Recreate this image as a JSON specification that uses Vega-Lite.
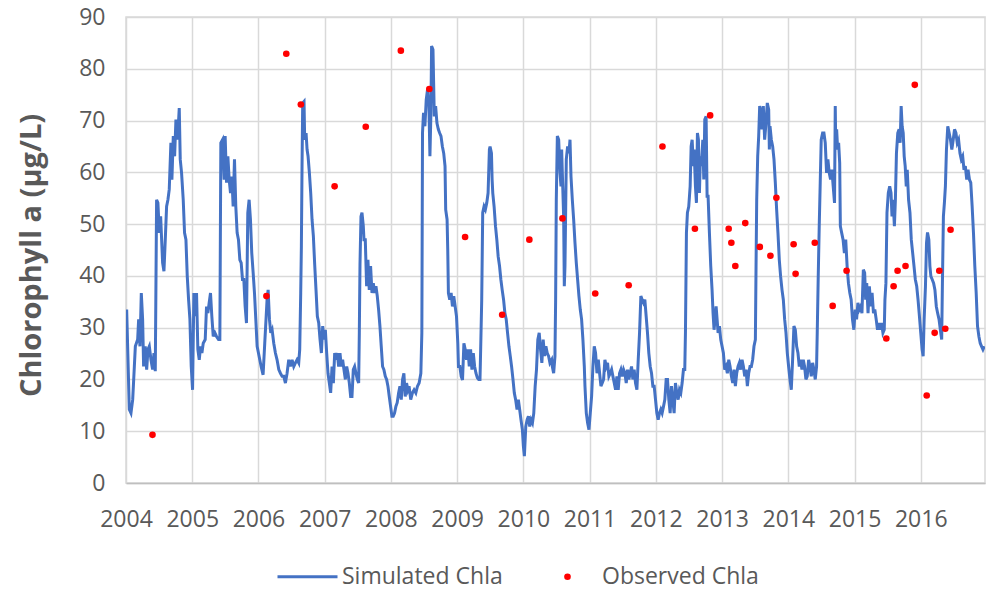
{
  "$schema": "https://vega.github.io/schema/vega-lite/v6.json",
  "width": 859,
  "height": 466,
  "autosize": {"type": "none"},
  "padding": {"left": 126, "top": 17, "right": 3, "bottom": 109},
  "background": "white",
  "config": {
    "font": "Open Sans",
    "view": {"stroke": "#d9d9d9", "strokeWidth": 1.5}
  },
  "datasets": {
    "simulated": [
      {"yr":2004.010,"chl":33.5},{"yr":2004.050,"chl":14.2},{"yr":2004.075,"chl":13.5},{"yr":2004.101,"chl":16.1},{"yr":2004.126,"chl":22.5},{"yr":2004.141,"chl":26.4},{"yr":2004.176,"chl":27.7},{"yr":2004.191,"chl":31.6},{"yr":2004.211,"chl":26.4},{"yr":2004.231,"chl":36.7},{"yr":2004.251,"chl":31.6},{"yr":2004.266,"chl":22.5},{"yr":2004.291,"chl":26.4},{"yr":2004.312,"chl":21.9},{"yr":2004.332,"chl":25.8},{"yr":2004.352,"chl":26.4},{"yr":2004.377,"chl":23.8},{"yr":2004.402,"chl":21.9},{"yr":2004.422,"chl":25.1},{"yr":2004.442,"chl":21.6},
      {"yr":2004.462,"chl":54.7},{"yr":2004.482,"chl":54.1},{"yr":2004.503,"chl":48.3},{"yr":2004.523,"chl":51.5},{"yr":2004.553,"chl":42.5},{"yr":2004.573,"chl":40.9},{"yr":2004.593,"chl":47.0},{"yr":2004.613,"chl":53.4},{"yr":2004.633,"chl":54.7},{"yr":2004.653,"chl":56.7},{"yr":2004.678,"chl":65.7},{"yr":2004.693,"chl":58.6},{"yr":2004.714,"chl":67.0},{"yr":2004.734,"chl":63.1},{"yr":2004.754,"chl":70.2},{"yr":2004.779,"chl":66.3},{"yr":2004.804,"chl":72.4},{"yr":2004.819,"chl":62.5},{"yr":2004.839,"chl":59.9},{"yr":2004.864,"chl":54.7},{"yr":2004.884,"chl":48.3},{"yr":2004.905,"chl":47.0},{"yr":2004.925,"chl":39.9},{"yr":2004.945,"chl":35.4},{"yr":2004.965,"chl":31.6},{"yr":2004.985,"chl":22.5},
      {"yr":2005.005,"chl":18.0},{"yr":2005.025,"chl":36.7},{"yr":2005.045,"chl":32.2},{"yr":2005.065,"chl":36.7},{"yr":2005.085,"chl":25.8},{"yr":2005.106,"chl":23.8},{"yr":2005.126,"chl":26.4},{"yr":2005.146,"chl":25.1},{"yr":2005.166,"chl":27.0},{"yr":2005.196,"chl":27.7},{"yr":2005.216,"chl":34.1},{"yr":2005.236,"chl":32.8},{"yr":2005.256,"chl":34.8},{"yr":2005.276,"chl":36.7},{"yr":2005.296,"chl":32.2},{"yr":2005.317,"chl":28.3},{"yr":2005.342,"chl":29.0},{"yr":2005.367,"chl":28.3},{"yr":2005.397,"chl":27.7},{"yr":2005.417,"chl":27.7},
      {"yr":2005.432,"chl":65.7},{"yr":2005.457,"chl":66.3},{"yr":2005.482,"chl":58.6},{"yr":2005.497,"chl":67.0},{"yr":2005.518,"chl":58.0},{"yr":2005.538,"chl":63.1},{"yr":2005.558,"chl":58.6},{"yr":2005.578,"chl":56.0},{"yr":2005.598,"chl":59.2},{"yr":2005.618,"chl":53.4},{"yr":2005.638,"chl":62.5},{"yr":2005.658,"chl":53.4},{"yr":2005.678,"chl":48.3},{"yr":2005.698,"chl":47.0},{"yr":2005.719,"chl":43.1},{"yr":2005.739,"chl":42.5},{"yr":2005.759,"chl":39.3},{"yr":2005.779,"chl":39.3},{"yr":2005.799,"chl":34.1},{"yr":2005.819,"chl":30.9},{"yr":2005.839,"chl":52.2},{"yr":2005.859,"chl":54.7},{"yr":2005.879,"chl":50.9},{"yr":2005.899,"chl":44.4},{"yr":2005.920,"chl":40.6},{"yr":2005.940,"chl":36.7},{"yr":2005.960,"chl":31.6},{"yr":2005.980,"chl":26.4},{"yr":2006.000,"chl":25.1},{"yr":2006.020,"chl":23.8},{"yr":2006.040,"chl":22.5},{"yr":2006.070,"chl":20.9},
      {"yr":2006.095,"chl":27.0},{"yr":2006.130,"chl":35.4},{"yr":2006.146,"chl":37.3},{"yr":2006.166,"chl":31.6},{"yr":2006.186,"chl":29.0},{"yr":2006.206,"chl":29.6},{"yr":2006.231,"chl":27.0},{"yr":2006.256,"chl":25.1},{"yr":2006.281,"chl":23.8},{"yr":2006.307,"chl":21.9},{"yr":2006.332,"chl":21.2},{"yr":2006.357,"chl":20.6},{"yr":2006.382,"chl":20.6},{"yr":2006.407,"chl":19.3},{"yr":2006.432,"chl":21.2},{"yr":2006.457,"chl":23.8},{"yr":2006.482,"chl":22.5},{"yr":2006.508,"chl":23.8},{"yr":2006.533,"chl":22.5},{"yr":2006.558,"chl":23.2},{"yr":2006.583,"chl":23.8},{"yr":2006.608,"chl":23.2},{"yr":2006.623,"chl":25.8},
      {"yr":2006.638,"chl":36.7},{"yr":2006.648,"chl":45.7},{"yr":2006.658,"chl":61.2},{"yr":2006.668,"chl":73.4},{"yr":2006.688,"chl":73.7},{"yr":2006.698,"chl":66.3},{"yr":2006.719,"chl":67.6},{"yr":2006.734,"chl":64.4},{"yr":2006.749,"chl":63.1},{"yr":2006.769,"chl":59.9},{"yr":2006.789,"chl":56.0},{"yr":2006.809,"chl":50.9},{"yr":2006.829,"chl":47.7},{"yr":2006.849,"chl":42.2},{"yr":2006.869,"chl":37.3},{"yr":2006.889,"chl":32.2},{"yr":2006.910,"chl":30.9},{"yr":2006.930,"chl":27.7},{"yr":2006.950,"chl":25.1},{"yr":2006.970,"chl":30.3},{"yr":2006.990,"chl":27.7},
      {"yr":2007.010,"chl":29.6},{"yr":2007.030,"chl":25.1},{"yr":2007.050,"chl":21.2},{"yr":2007.070,"chl":19.3},{"yr":2007.090,"chl":17.4},{"yr":2007.111,"chl":22.5},{"yr":2007.131,"chl":19.3},{"yr":2007.151,"chl":25.1},{"yr":2007.171,"chl":23.8},{"yr":2007.191,"chl":25.1},{"yr":2007.211,"chl":22.5},{"yr":2007.231,"chl":25.1},{"yr":2007.251,"chl":22.5},{"yr":2007.271,"chl":23.8},{"yr":2007.291,"chl":21.9},{"yr":2007.312,"chl":20.0},{"yr":2007.332,"chl":22.5},{"yr":2007.352,"chl":21.2},{"yr":2007.372,"chl":19.3},{"yr":2007.392,"chl":16.7},{"yr":2007.412,"chl":16.7},{"yr":2007.432,"chl":21.9},{"yr":2007.452,"chl":22.5},{"yr":2007.472,"chl":21.2},{"yr":2007.492,"chl":20.0},{"yr":2007.513,"chl":19.3},
      {"yr":2007.523,"chl":29.0},{"yr":2007.533,"chl":42.2},{"yr":2007.548,"chl":51.5},{"yr":2007.563,"chl":52.2},{"yr":2007.583,"chl":49.6},{"yr":2007.593,"chl":47.0},{"yr":2007.613,"chl":47.0},{"yr":2007.633,"chl":38.0},{"yr":2007.653,"chl":43.1},{"yr":2007.673,"chl":37.3},{"yr":2007.693,"chl":41.9},{"yr":2007.714,"chl":36.7},{"yr":2007.734,"chl":38.6},{"yr":2007.754,"chl":36.7},{"yr":2007.774,"chl":38.0},{"yr":2007.794,"chl":36.1},{"yr":2007.814,"chl":33.5},{"yr":2007.834,"chl":30.3},{"yr":2007.854,"chl":26.4},{"yr":2007.874,"chl":22.5},{"yr":2007.894,"chl":21.9},{"yr":2007.915,"chl":20.6},{"yr":2007.935,"chl":20.0},{"yr":2007.955,"chl":18.7},{"yr":2007.975,"chl":16.7},{"yr":2007.995,"chl":14.8},
      {"yr":2008.015,"chl":12.9},{"yr":2008.035,"chl":12.9},{"yr":2008.055,"chl":13.5},{"yr":2008.075,"chl":14.8},{"yr":2008.095,"chl":15.5},{"yr":2008.116,"chl":17.4},{"yr":2008.136,"chl":18.7},{"yr":2008.156,"chl":16.1},{"yr":2008.176,"chl":20.0},{"yr":2008.196,"chl":21.2},{"yr":2008.216,"chl":16.7},{"yr":2008.236,"chl":19.3},{"yr":2008.256,"chl":18.0},{"yr":2008.274,"chl":18.7},{"yr":2008.299,"chl":16.1},{"yr":2008.325,"chl":17.4},{"yr":2008.350,"chl":18.0},{"yr":2008.376,"chl":17.4},{"yr":2008.401,"chl":18.7},{"yr":2008.426,"chl":19.3},{"yr":2008.452,"chl":21.2},{"yr":2008.467,"chl":29.0},
      {"yr":2008.477,"chl":67.6},{"yr":2008.492,"chl":71.5},{"yr":2008.513,"chl":68.9},{"yr":2008.533,"chl":74.0},{"yr":2008.553,"chl":76.0},{"yr":2008.574,"chl":72.8},{"yr":2008.589,"chl":63.1},{"yr":2008.604,"chl":71.5},{"yr":2008.614,"chl":84.4},{"yr":2008.635,"chl":83.7},{"yr":2008.645,"chl":77.3},{"yr":2008.655,"chl":70.8},{"yr":2008.675,"chl":72.8},{"yr":2008.695,"chl":69.5},{"yr":2008.716,"chl":68.3},{"yr":2008.736,"chl":67.6},{"yr":2008.756,"chl":67.0},{"yr":2008.777,"chl":65.0},{"yr":2008.797,"chl":63.7},{"yr":2008.817,"chl":61.2},{"yr":2008.827,"chl":52.8},{"yr":2008.848,"chl":50.9},{"yr":2008.858,"chl":45.1},{"yr":2008.868,"chl":36.7},{"yr":2008.888,"chl":35.4},{"yr":2008.909,"chl":36.7},{"yr":2008.929,"chl":34.1},{"yr":2008.949,"chl":36.1},{"yr":2008.970,"chl":34.1},{"yr":2008.990,"chl":32.2},
      {"yr":2009.010,"chl":27.0},{"yr":2009.020,"chl":22.5},{"yr":2009.041,"chl":22.5},{"yr":2009.061,"chl":20.6},{"yr":2009.081,"chl":19.9},{"yr":2009.102,"chl":27.0},{"yr":2009.122,"chl":25.8},{"yr":2009.142,"chl":23.8},{"yr":2009.162,"chl":25.8},{"yr":2009.183,"chl":22.5},{"yr":2009.203,"chl":25.8},{"yr":2009.223,"chl":21.9},{"yr":2009.244,"chl":25.1},{"yr":2009.264,"chl":22.5},{"yr":2009.284,"chl":21.2},{"yr":2009.305,"chl":20.3},{"yr":2009.325,"chl":20.0},{"yr":2009.345,"chl":20.0},{"yr":2009.355,"chl":25.8},{"yr":2009.371,"chl":35.4},
      {"yr":2009.386,"chl":52.2},{"yr":2009.406,"chl":53.4},{"yr":2009.426,"chl":52.8},{"yr":2009.447,"chl":54.1},{"yr":2009.467,"chl":56.0},{"yr":2009.487,"chl":64.4},{"yr":2009.497,"chl":65.0},{"yr":2009.518,"chl":63.7},{"yr":2009.528,"chl":58.6},{"yr":2009.538,"chl":56.0},{"yr":2009.558,"chl":53.4},{"yr":2009.579,"chl":49.6},{"yr":2009.599,"chl":47.0},{"yr":2009.619,"chl":43.8},{"yr":2009.640,"chl":41.9},{"yr":2009.660,"chl":39.3},{"yr":2009.680,"chl":37.3},{"yr":2009.701,"chl":35.4},{"yr":2009.721,"chl":32.8},{"yr":2009.741,"chl":31.6},{"yr":2009.761,"chl":29.0},{"yr":2009.782,"chl":26.4},{"yr":2009.802,"chl":24.5},{"yr":2009.822,"chl":22.5},{"yr":2009.843,"chl":20.0},{"yr":2009.863,"chl":17.4},{"yr":2009.883,"chl":16.1},{"yr":2009.904,"chl":14.2},{"yr":2009.924,"chl":16.1},{"yr":2009.944,"chl":14.2},{"yr":2009.964,"chl":12.2},{"yr":2009.985,"chl":10.3},
      {"yr":2010.000,"chl":7.1},{"yr":2010.015,"chl":5.2},{"yr":2010.036,"chl":10.9},{"yr":2010.056,"chl":12.2},{"yr":2010.076,"chl":12.9},{"yr":2010.096,"chl":10.9},{"yr":2010.117,"chl":12.2},{"yr":2010.137,"chl":11.6},{"yr":2010.157,"chl":13.5},{"yr":2010.178,"chl":18.7},{"yr":2010.198,"chl":21.9},{"yr":2010.218,"chl":27.7},{"yr":2010.239,"chl":29.0},{"yr":2010.259,"chl":25.8},{"yr":2010.279,"chl":23.2},{"yr":2010.299,"chl":27.7},{"yr":2010.320,"chl":24.5},{"yr":2010.340,"chl":26.4},{"yr":2010.360,"chl":25.1},{"yr":2010.381,"chl":24.5},{"yr":2010.401,"chl":23.2},{"yr":2010.427,"chl":23.8},{"yr":2010.437,"chl":22.5},{"yr":2010.457,"chl":21.2},{"yr":2010.477,"chl":24.5},{"yr":2010.487,"chl":35.4},
      {"yr":2010.497,"chl":54.7},{"yr":2010.513,"chl":67.0},{"yr":2010.533,"chl":66.3},{"yr":2010.553,"chl":59.9},{"yr":2010.568,"chl":57.3},{"yr":2010.578,"chl":64.4},{"yr":2010.588,"chl":59.9},{"yr":2010.608,"chl":51.5},{"yr":2010.618,"chl":38.0},{"yr":2010.628,"chl":41.9},{"yr":2010.648,"chl":62.5},{"yr":2010.668,"chl":65.0},{"yr":2010.688,"chl":63.7},{"yr":2010.704,"chl":66.3},{"yr":2010.719,"chl":59.2},{"yr":2010.739,"chl":54.7},{"yr":2010.759,"chl":50.9},{"yr":2010.779,"chl":46.4},{"yr":2010.799,"chl":42.5},{"yr":2010.819,"chl":39.3},{"yr":2010.839,"chl":36.1},{"yr":2010.859,"chl":33.5},{"yr":2010.879,"chl":31.6},{"yr":2010.899,"chl":27.7},{"yr":2010.920,"chl":22.5},{"yr":2010.930,"chl":18.7},{"yr":2010.950,"chl":13.5},{"yr":2010.970,"chl":11.6},{"yr":2010.990,"chl":10.3},
      {"yr":2011.010,"chl":13.5},{"yr":2011.030,"chl":16.7},{"yr":2011.050,"chl":22.5},{"yr":2011.070,"chl":26.4},{"yr":2011.090,"chl":25.1},{"yr":2011.111,"chl":21.2},{"yr":2011.131,"chl":23.8},{"yr":2011.151,"chl":21.2},{"yr":2011.171,"chl":18.7},{"yr":2011.191,"chl":19.3},{"yr":2011.211,"chl":20.0},{"yr":2011.231,"chl":23.8},{"yr":2011.251,"chl":22.5},{"yr":2011.271,"chl":23.2},{"yr":2011.291,"chl":20.6},{"yr":2011.312,"chl":21.2},{"yr":2011.332,"chl":21.9},{"yr":2011.352,"chl":20.6},{"yr":2011.372,"chl":19.3},{"yr":2011.392,"chl":18.0},{"yr":2011.412,"chl":20.6},{"yr":2011.432,"chl":18.0},{"yr":2011.452,"chl":21.2},{"yr":2011.472,"chl":21.9},{"yr":2011.492,"chl":20.6},{"yr":2011.513,"chl":21.9},{"yr":2011.533,"chl":21.2},{"yr":2011.553,"chl":19.3},{"yr":2011.573,"chl":21.9},{"yr":2011.593,"chl":20.0},{"yr":2011.613,"chl":21.2},{"yr":2011.633,"chl":22.5},{"yr":2011.653,"chl":20.0},{"yr":2011.673,"chl":21.9},{"yr":2011.693,"chl":19.3},{"yr":2011.714,"chl":18.0},
      {"yr":2011.734,"chl":23.8},{"yr":2011.754,"chl":29.0},{"yr":2011.774,"chl":36.1},{"yr":2011.794,"chl":35.4},{"yr":2011.814,"chl":34.8},{"yr":2011.834,"chl":35.4},{"yr":2011.854,"chl":32.2},{"yr":2011.874,"chl":29.0},{"yr":2011.894,"chl":25.1},{"yr":2011.915,"chl":22.5},{"yr":2011.935,"chl":21.2},{"yr":2011.955,"chl":18.7},{"yr":2011.975,"chl":18.7},{"yr":2011.995,"chl":16.1},
      {"yr":2012.015,"chl":13.5},{"yr":2012.035,"chl":12.2},{"yr":2012.055,"chl":13.5},{"yr":2012.075,"chl":14.2},{"yr":2012.095,"chl":13.5},{"yr":2012.116,"chl":14.8},{"yr":2012.136,"chl":16.1},{"yr":2012.156,"chl":20.0},{"yr":2012.176,"chl":20.0},{"yr":2012.196,"chl":16.1},{"yr":2012.216,"chl":13.5},{"yr":2012.236,"chl":18.7},{"yr":2012.256,"chl":16.1},{"yr":2012.276,"chl":13.5},{"yr":2012.296,"chl":19.3},{"yr":2012.317,"chl":17.4},{"yr":2012.337,"chl":16.1},{"yr":2012.357,"chl":18.0},{"yr":2012.377,"chl":17.4},{"yr":2012.397,"chl":19.3},{"yr":2012.417,"chl":21.9},{"yr":2012.437,"chl":21.9},{"yr":2012.447,"chl":29.0},
      {"yr":2012.462,"chl":48.3},{"yr":2012.477,"chl":52.2},{"yr":2012.497,"chl":53.4},{"yr":2012.518,"chl":57.3},{"yr":2012.533,"chl":65.0},{"yr":2012.548,"chl":66.3},{"yr":2012.568,"chl":61.2},{"yr":2012.578,"chl":64.4},{"yr":2012.598,"chl":57.3},{"yr":2012.613,"chl":54.1},{"yr":2012.628,"chl":67.6},{"yr":2012.643,"chl":66.3},{"yr":2012.658,"chl":56.0},{"yr":2012.673,"chl":63.1},{"yr":2012.688,"chl":61.2},{"yr":2012.709,"chl":66.3},{"yr":2012.724,"chl":58.6},{"yr":2012.739,"chl":70.2},{"yr":2012.759,"chl":70.8},{"yr":2012.774,"chl":55.4},{"yr":2012.789,"chl":55.4},{"yr":2012.809,"chl":48.3},{"yr":2012.829,"chl":41.9},{"yr":2012.849,"chl":37.3},{"yr":2012.864,"chl":32.8},{"yr":2012.879,"chl":29.6},{"yr":2012.894,"chl":31.6},{"yr":2012.910,"chl":34.1},{"yr":2012.925,"chl":31.6},{"yr":2012.940,"chl":29.0},{"yr":2012.960,"chl":30.3},{"yr":2012.980,"chl":27.7},
      {"yr":2013.000,"chl":26.4},{"yr":2013.020,"chl":25.1},{"yr":2013.040,"chl":21.9},{"yr":2013.060,"chl":22.5},{"yr":2013.080,"chl":21.2},{"yr":2013.101,"chl":23.8},{"yr":2013.121,"chl":22.5},{"yr":2013.141,"chl":20.6},{"yr":2013.161,"chl":19.3},{"yr":2013.181,"chl":21.9},{"yr":2013.201,"chl":18.7},{"yr":2013.221,"chl":21.2},{"yr":2013.241,"chl":22.5},{"yr":2013.261,"chl":23.2},{"yr":2013.281,"chl":21.9},{"yr":2013.302,"chl":23.8},{"yr":2013.322,"chl":22.5},{"yr":2013.342,"chl":20.6},{"yr":2013.362,"chl":21.9},{"yr":2013.382,"chl":18.7},{"yr":2013.402,"chl":21.2},{"yr":2013.422,"chl":22.5},{"yr":2013.442,"chl":22.5},{"yr":2013.462,"chl":23.8},{"yr":2013.482,"chl":26.4},{"yr":2013.503,"chl":27.7},
      {"yr":2013.513,"chl":41.9},{"yr":2013.523,"chl":54.7},{"yr":2013.538,"chl":63.1},{"yr":2013.553,"chl":67.0},{"yr":2013.568,"chl":72.8},{"yr":2013.583,"chl":72.1},{"yr":2013.603,"chl":68.3},{"yr":2013.623,"chl":72.8},{"yr":2013.643,"chl":66.3},{"yr":2013.663,"chl":69.5},{"yr":2013.683,"chl":73.4},{"yr":2013.704,"chl":72.1},{"yr":2013.714,"chl":64.4},{"yr":2013.724,"chl":68.9},{"yr":2013.744,"chl":66.3},{"yr":2013.764,"chl":65.0},{"yr":2013.784,"chl":62.5},{"yr":2013.804,"chl":58.0},{"yr":2013.824,"chl":52.8},{"yr":2013.844,"chl":48.3},{"yr":2013.864,"chl":43.1},{"yr":2013.884,"chl":39.9},{"yr":2013.905,"chl":37.3},{"yr":2013.925,"chl":35.4},{"yr":2013.945,"chl":31.6},{"yr":2013.965,"chl":29.0},{"yr":2013.985,"chl":25.1},
      {"yr":2014.005,"chl":22.5},{"yr":2014.025,"chl":20.0},{"yr":2014.045,"chl":18.0},{"yr":2014.065,"chl":23.8},{"yr":2014.085,"chl":30.3},{"yr":2014.106,"chl":29.6},{"yr":2014.126,"chl":26.4},{"yr":2014.146,"chl":25.1},{"yr":2014.166,"chl":22.5},{"yr":2014.186,"chl":23.8},{"yr":2014.206,"chl":21.9},{"yr":2014.226,"chl":23.8},{"yr":2014.246,"chl":22.5},{"yr":2014.266,"chl":20.0},{"yr":2014.286,"chl":20.6},{"yr":2014.307,"chl":23.8},{"yr":2014.327,"chl":22.5},{"yr":2014.347,"chl":20.6},{"yr":2014.367,"chl":23.2},{"yr":2014.387,"chl":21.9},{"yr":2014.407,"chl":20.0},{"yr":2014.427,"chl":22.5},{"yr":2014.437,"chl":29.0},
      {"yr":2014.452,"chl":39.9},{"yr":2014.467,"chl":49.6},{"yr":2014.482,"chl":58.0},{"yr":2014.497,"chl":66.3},{"yr":2014.518,"chl":67.6},{"yr":2014.538,"chl":67.6},{"yr":2014.558,"chl":65.7},{"yr":2014.578,"chl":59.9},{"yr":2014.598,"chl":62.5},{"yr":2014.618,"chl":59.9},{"yr":2014.638,"chl":58.6},{"yr":2014.658,"chl":60.5},{"yr":2014.678,"chl":57.3},{"yr":2014.698,"chl":54.1},{"yr":2014.709,"chl":72.8},{"yr":2014.714,"chl":67.6},{"yr":2014.730,"chl":68.3},{"yr":2014.745,"chl":64.4},{"yr":2014.760,"chl":65.7},{"yr":2014.776,"chl":61.8},{"yr":2014.786,"chl":49.6},{"yr":2014.806,"chl":48.3},{"yr":2014.827,"chl":47.0},{"yr":2014.847,"chl":44.4},{"yr":2014.867,"chl":47.0},{"yr":2014.888,"chl":41.9},{"yr":2014.908,"chl":38.6},{"yr":2014.929,"chl":36.7},{"yr":2014.949,"chl":35.4},{"yr":2014.969,"chl":31.6},{"yr":2014.990,"chl":29.6},
      {"yr":2015.010,"chl":33.5},{"yr":2015.031,"chl":31.6},{"yr":2015.051,"chl":34.8},{"yr":2015.071,"chl":33.5},{"yr":2015.092,"chl":34.1},{"yr":2015.112,"chl":32.8},{"yr":2015.133,"chl":41.2},{"yr":2015.153,"chl":40.6},{"yr":2015.168,"chl":35.4},{"yr":2015.184,"chl":38.6},{"yr":2015.204,"chl":32.8},{"yr":2015.224,"chl":38.0},{"yr":2015.245,"chl":34.1},{"yr":2015.265,"chl":36.7},{"yr":2015.286,"chl":32.8},{"yr":2015.306,"chl":33.5},{"yr":2015.327,"chl":31.6},{"yr":2015.347,"chl":29.6},{"yr":2015.367,"chl":30.9},{"yr":2015.388,"chl":29.6},{"yr":2015.408,"chl":30.9},{"yr":2015.429,"chl":29.0},{"yr":2015.449,"chl":29.6},{"yr":2015.459,"chl":35.4},{"yr":2015.474,"chl":38.6},
      {"yr":2015.490,"chl":52.2},{"yr":2015.510,"chl":56.0},{"yr":2015.531,"chl":57.3},{"yr":2015.551,"chl":56.0},{"yr":2015.566,"chl":51.5},{"yr":2015.582,"chl":54.7},{"yr":2015.602,"chl":49.6},{"yr":2015.617,"chl":54.7},{"yr":2015.633,"chl":63.7},{"yr":2015.653,"chl":67.6},{"yr":2015.673,"chl":68.3},{"yr":2015.689,"chl":65.7},{"yr":2015.704,"chl":72.8},{"yr":2015.719,"chl":68.9},{"yr":2015.735,"chl":67.6},{"yr":2015.750,"chl":63.1},{"yr":2015.765,"chl":61.2},{"yr":2015.781,"chl":57.3},{"yr":2015.796,"chl":60.5},{"yr":2015.816,"chl":54.7},{"yr":2015.837,"chl":52.2},{"yr":2015.857,"chl":47.0},{"yr":2015.878,"chl":44.4},{"yr":2015.898,"chl":41.9},{"yr":2015.918,"chl":39.3},{"yr":2015.939,"chl":38.0},{"yr":2015.959,"chl":35.4},{"yr":2015.980,"chl":32.2},
      {"yr":2016.000,"chl":29.0},{"yr":2016.020,"chl":25.8},{"yr":2016.036,"chl":24.5},{"yr":2016.051,"chl":31.6},{"yr":2016.071,"chl":38.0},{"yr":2016.087,"chl":46.4},{"yr":2016.102,"chl":48.4},{"yr":2016.122,"chl":47.0},{"yr":2016.138,"chl":41.9},{"yr":2016.153,"chl":39.9},{"yr":2016.173,"chl":39.3},{"yr":2016.194,"chl":38.6},{"yr":2016.214,"chl":37.3},{"yr":2016.235,"chl":34.1},{"yr":2016.255,"chl":32.8},{"yr":2016.276,"chl":31.6},{"yr":2016.296,"chl":29.6},{"yr":2016.316,"chl":27.7},
      {"yr":2016.327,"chl":38.6},{"yr":2016.342,"chl":51.5},{"yr":2016.357,"chl":54.1},{"yr":2016.372,"chl":57.3},{"yr":2016.388,"chl":64.4},{"yr":2016.408,"chl":68.9},{"yr":2016.429,"chl":67.6},{"yr":2016.449,"chl":66.3},{"yr":2016.469,"chl":64.4},{"yr":2016.490,"chl":66.3},{"yr":2016.510,"chl":68.3},{"yr":2016.531,"chl":67.6},{"yr":2016.551,"chl":65.7},{"yr":2016.571,"chl":66.3},{"yr":2016.592,"chl":63.7},{"yr":2016.612,"chl":62.5},{"yr":2016.633,"chl":63.1},{"yr":2016.653,"chl":60.5},{"yr":2016.673,"chl":61.2},{"yr":2016.694,"chl":58.6},{"yr":2016.714,"chl":60.5},{"yr":2016.735,"chl":58.6},{"yr":2016.755,"chl":58.0},{"yr":2016.776,"chl":53.4},{"yr":2016.796,"chl":48.3},{"yr":2016.816,"chl":41.9},{"yr":2016.837,"chl":36.7},{"yr":2016.857,"chl":30.3},{"yr":2016.878,"chl":28.3},{"yr":2016.898,"chl":27.0},{"yr":2016.918,"chl":26.4},{"yr":2016.939,"chl":25.8},{"yr":2016.959,"chl":26.4}
    ],
    "observed": [
      {"yr":2004.40,"chl":9.3},{"yr":2006.12,"chl":36.1},{"yr":2006.42,"chl":82.9},{"yr":2006.64,"chl":73.1},{"yr":2007.15,"chl":57.3},{"yr":2007.62,"chl":68.8},{"yr":2008.15,"chl":83.5},{"yr":2008.58,"chl":76.1},{"yr":2009.12,"chl":47.5},{"yr":2009.68,"chl":32.5},{"yr":2010.09,"chl":47.0},{"yr":2010.59,"chl":51.1},{"yr":2011.085,"chl":36.6},{"yr":2011.59,"chl":38.2},{"yr":2012.10,"chl":65.0},{"yr":2012.59,"chl":49.1},{"yr":2012.82,"chl":71.0},{"yr":2013.10,"chl":49.1},{"yr":2013.14,"chl":46.4},{"yr":2013.20,"chl":41.9},{"yr":2013.35,"chl":50.2},{"yr":2013.57,"chl":45.6},{"yr":2013.73,"chl":43.9},{"yr":2013.82,"chl":55.1},{"yr":2014.08,"chl":46.1},{"yr":2014.11,"chl":40.4},{"yr":2014.40,"chl":46.4},{"yr":2014.67,"chl":34.2},{"yr":2014.88,"chl":41.0},{"yr":2015.48,"chl":27.9},{"yr":2015.59,"chl":38.0},{"yr":2015.65,"chl":41.0},{"yr":2015.77,"chl":41.9},{"yr":2015.91,"chl":76.9},{"yr":2016.09,"chl":16.9},{"yr":2016.21,"chl":29.0},{"yr":2016.28,"chl":41.0},{"yr":2016.37,"chl":29.8},{"yr":2016.45,"chl":48.9}
    ]
  },
  "encoding": {
    "x": {
      "field": "yr",
      "type": "quantitative",
      "scale": {"domain": [2004, 2016.97], "nice": false, "zero": false},
      "axis": {
        "title": null,
        "values": [2004, 2005, 2006, 2007, 2008, 2009, 2010, 2011, 2012, 2013, 2014, 2015, 2016],
        "format": "d",
        "grid": true,
        "gridColor": "#d9d9d9",
        "gridWidth": 1.5,
        "ticks": false,
        "domain": true,
        "domainColor": "#bfbfbf",
        "domainWidth": 1.5,
        "labelFont": "Open Sans",
        "labelFontSize": 23,
        "labelColor": "#595959",
        "labelPadding": 25,
        "labelFlush": false,
        "labelOverlap": false
      }
    },
    "y": {
      "field": "chl",
      "type": "quantitative",
      "scale": {"domain": [0, 90], "nice": false},
      "axis": {
        "title": "Chlorophyll a (μg/L)",
        "values": [0, 10, 20, 30, 40, 50, 60, 70, 80, 90],
        "grid": true,
        "gridColor": "#d9d9d9",
        "gridWidth": 1.5,
        "ticks": false,
        "domain": false,
        "labelFont": "Open Sans",
        "labelFontSize": 23,
        "labelColor": "#595959",
        "labelPadding": 21,
        "titleFont": "Open Sans",
        "titleFontSize": 29,
        "titleFontWeight": "bold",
        "titleColor": "#595959",
        "titleAngle": -90,
        "titleAlign": "center",
        "titleBaseline": "middle",
        "titleX": -95,
        "titleY": 238
      }
    }
  },
  "layer": [
    {
      "data": {"name": "simulated"},
      "mark": {"type": "line", "strokeWidth": 3, "clip": true},
      "encoding": {
        "color": {
          "datum": "Simulated Chla",
          "type": "nominal",
          "scale": {"domain": ["Simulated Chla", "Observed Chla"], "range": ["#4472C4", "#FF0000"]},
          "legend": {
            "title": null,
            "orient": "none",
            "legendX": 170,
            "legendY": 548,
            "direction": "horizontal",
            "symbolType": "stroke",
            "symbolSize": 3600,
            "symbolStrokeWidth": 3,
            "labelFont": "Open Sans",
            "labelFontSize": 23,
            "labelColor": "#595959",
            "labelOffset": 23,
            "labelLimit": 400,
            "columnPadding": 53,
            "encode": {
              "symbols": {
                "update": {
                  "shape": {"signal": "datum.value === 'Observed Chla' ? 'circle' : 'stroke'"},
                  "size": {"signal": "datum.value === 'Observed Chla' ? 44 : 3600"},
                  "fill": {"signal": "datum.value === 'Observed Chla' ? '#FF0000' : 'transparent'"},
                  "stroke": {"signal": "datum.value === 'Observed Chla' ? 'transparent' : '#4472C4'"},
                  "strokeWidth": {"signal": "datum.value === 'Observed Chla' ? 0 : 3"},
                  "opacity": {"value": 1}
                }
              }
            }
          }
        }
      }
    },
    {
      "data": {"name": "observed"},
      "mark": {"type": "circle", "size": 44, "opacity": 1},
      "encoding": {
        "color": {"datum": "Observed Chla", "type": "nominal"}
      }
    }
  ]
}
